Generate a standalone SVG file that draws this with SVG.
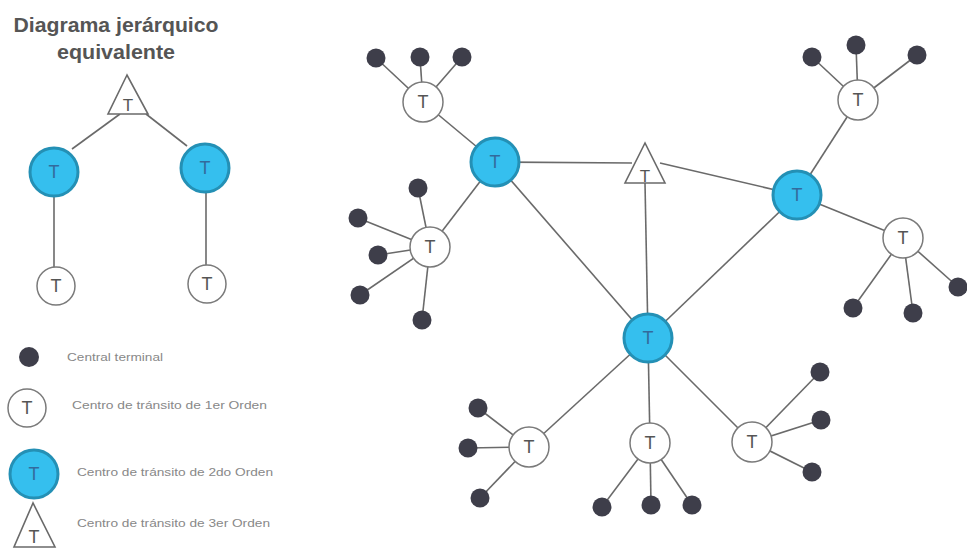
<svg xmlns="http://www.w3.org/2000/svg" width="967" height="552" viewBox="0 0 967 552">
<style>
.ln{stroke:#6a6a6a;stroke-width:1.6;fill:none}
.dot{fill:#3e3e4a}
.t1{fill:#fff;stroke:#7a7a7a;stroke-width:1.5}
.t2{fill:#35bfee;stroke:#2490b5;stroke-width:3}
.tri{fill:#fff;stroke:#6a6a6a;stroke-width:1.6}
.lbl{font-family:"Liberation Sans",Arial,sans-serif;font-size:18px;fill:#555;text-anchor:middle}
.lbl2{font-family:"Liberation Sans",Arial,sans-serif;font-size:18px;fill:#336;text-anchor:middle;opacity:.6}
.leg{font-family:"Liberation Sans",Arial,sans-serif;font-size:10.5px;fill:#888}
.title{font-family:"Liberation Sans",Arial,sans-serif;font-size:21px;font-weight:bold;fill:#555;text-anchor:middle}
</style>
<rect width="967" height="552" fill="#fff"/>
<g id="title">
<text class="title" x="116" y="32" textLength="205" lengthAdjust="spacingAndGlyphs">Diagrama jerárquico</text>
<text class="title" x="116" y="59" textLength="118" lengthAdjust="spacingAndGlyphs">equivalente</text>
</g>
<g id="connectors">
<line class="ln" x1="120" y1="114" x2="72" y2="149"/>
<line class="ln" x1="146" y1="114" x2="187" y2="146"/>
<line class="ln" x1="54" y1="196" x2="54" y2="267"/>
<line class="ln" x1="206" y1="192" x2="206" y2="265"/>
<line class="ln" x1="495" y1="162" x2="632" y2="163"/>
<line class="ln" x1="660" y1="163" x2="797" y2="195"/>
<line class="ln" x1="645" y1="183" x2="648" y2="338"/>
<line class="ln" x1="495" y1="162" x2="648" y2="338"/>
<line class="ln" x1="797" y1="195" x2="648" y2="338"/>
<line class="ln" x1="423" y1="102" x2="495" y2="162"/>
<line class="ln" x1="376" y1="58" x2="423" y2="102"/>
<line class="ln" x1="420" y1="57" x2="423" y2="102"/>
<line class="ln" x1="462" y1="57" x2="423" y2="102"/>
<line class="ln" x1="430" y1="247" x2="495" y2="162"/>
<line class="ln" x1="418" y1="188" x2="430" y2="247"/>
<line class="ln" x1="358" y1="218" x2="430" y2="247"/>
<line class="ln" x1="378" y1="255" x2="430" y2="247"/>
<line class="ln" x1="360" y1="295" x2="430" y2="247"/>
<line class="ln" x1="422" y1="320" x2="430" y2="247"/>
<line class="ln" x1="858" y1="100" x2="797" y2="195"/>
<line class="ln" x1="812" y1="57" x2="858" y2="100"/>
<line class="ln" x1="856" y1="45" x2="858" y2="100"/>
<line class="ln" x1="917" y1="55" x2="858" y2="100"/>
<line class="ln" x1="903" y1="238" x2="797" y2="195"/>
<line class="ln" x1="853" y1="308" x2="903" y2="238"/>
<line class="ln" x1="913" y1="313" x2="903" y2="238"/>
<line class="ln" x1="958" y1="287" x2="903" y2="238"/>
<line class="ln" x1="529" y1="447" x2="648" y2="338"/>
<line class="ln" x1="478" y1="408" x2="529" y2="447"/>
<line class="ln" x1="468" y1="448" x2="529" y2="447"/>
<line class="ln" x1="480" y1="498" x2="529" y2="447"/>
<line class="ln" x1="648" y1="338" x2="650" y2="443"/>
<line class="ln" x1="602" y1="507" x2="650" y2="443"/>
<line class="ln" x1="651" y1="505" x2="650" y2="443"/>
<line class="ln" x1="692" y1="505" x2="650" y2="443"/>
<line class="ln" x1="648" y1="338" x2="752" y2="442"/>
<line class="ln" x1="820" y1="372" x2="752" y2="442"/>
<line class="ln" x1="821" y1="420" x2="752" y2="442"/>
<line class="ln" x1="812" y1="472" x2="752" y2="442"/>
</g>
<g id="eq-tri"><polygon class="tri" points="127,75 108,114 148,114"/><text class="lbl" x="128" y="111" style="font-size:17px">T</text></g>
<g id="eq-b1"><circle class="t2" cx="54" cy="172" r="24"/><text class="lbl2" x="54" y="178">T</text></g>
<g id="eq-b2"><circle class="t2" cx="205" cy="168" r="24"/><text class="lbl2" x="205" y="174">T</text></g>
<g id="eq-w1"><circle class="t1" cx="56" cy="286" r="19"/><text class="lbl" x="56" y="292">T</text></g>
<g id="eq-w2"><circle class="t1" cx="207" cy="284" r="19"/><text class="lbl" x="207" y="290">T</text></g>
<g id="leg-terminal"><circle class="dot" cx="29" cy="357" r="10"/><text class="leg" x="67" y="361" textLength="96" lengthAdjust="spacingAndGlyphs">Central terminal</text></g>
<g id="leg-1"><circle class="t1" cx="27" cy="408" r="19"/><text class="lbl" x="27" y="414">T</text><text class="leg" x="72" y="409" textLength="195" lengthAdjust="spacingAndGlyphs">Centro de tránsito de 1er Orden</text></g>
<g id="leg-2"><circle class="t2" cx="34" cy="474" r="24"/><text class="lbl2" x="34" y="480">T</text><text class="leg" x="77" y="476" textLength="196" lengthAdjust="spacingAndGlyphs">Centro de tránsito de 2do Orden</text></g>
<g id="leg-3"><polygon class="tri" points="33,503 14,547 55,547"/><text class="lbl" x="34" y="543">T</text><text class="leg" x="77" y="527" textLength="193" lengthAdjust="spacingAndGlyphs">Centro de tránsito de 3er Orden</text></g>
<g id="tri-main"><polygon class="tri" points="645,143 625,183 665,183"/><text class="lbl" x="645" y="182" style="font-size:17px">T</text></g>
<g id="b-A"><circle class="t2" cx="495" cy="162" r="24"/><text class="lbl2" x="495" y="168">T</text></g>
<g id="b-C"><circle class="t2" cx="797" cy="195" r="24"/><text class="lbl2" x="797" y="201">T</text></g>
<g id="b-D"><circle class="t2" cx="648" cy="338" r="24"/><text class="lbl2" x="648" y="344">T</text></g>
<g id="w-E"><circle class="t1" cx="423" cy="102" r="20"/><text class="lbl" x="423" y="108">T</text></g>
<g id="w-F"><circle class="t1" cx="430" cy="247" r="20"/><text class="lbl" x="430" y="253">T</text></g>
<g id="w-G"><circle class="t1" cx="858" cy="100" r="20"/><text class="lbl" x="858" y="106">T</text></g>
<g id="w-H"><circle class="t1" cx="903" cy="238" r="20"/><text class="lbl" x="903" y="244">T</text></g>
<g id="w-I"><circle class="t1" cx="529" cy="447" r="20"/><text class="lbl" x="529" y="453">T</text></g>
<g id="w-J"><circle class="t1" cx="650" cy="443" r="20"/><text class="lbl" x="650" y="449">T</text></g>
<g id="w-K"><circle class="t1" cx="752" cy="442" r="20"/><text class="lbl" x="752" y="448">T</text></g>
<g id="dots">
<circle class="dot" cx="376" cy="58" r="9.5"/>
<circle class="dot" cx="420" cy="57" r="9.5"/>
<circle class="dot" cx="462" cy="57" r="9.5"/>
<circle class="dot" cx="418" cy="188" r="9.5"/>
<circle class="dot" cx="358" cy="218" r="9.5"/>
<circle class="dot" cx="378" cy="255" r="9.5"/>
<circle class="dot" cx="360" cy="295" r="9.5"/>
<circle class="dot" cx="422" cy="320" r="9.5"/>
<circle class="dot" cx="812" cy="57" r="9.5"/>
<circle class="dot" cx="856" cy="45" r="9.5"/>
<circle class="dot" cx="917" cy="55" r="9.5"/>
<circle class="dot" cx="853" cy="308" r="9.5"/>
<circle class="dot" cx="913" cy="313" r="9.5"/>
<circle class="dot" cx="958" cy="287" r="9.5"/>
<circle class="dot" cx="478" cy="408" r="9.5"/>
<circle class="dot" cx="468" cy="448" r="9.5"/>
<circle class="dot" cx="480" cy="498" r="9.5"/>
<circle class="dot" cx="602" cy="507" r="9.5"/>
<circle class="dot" cx="651" cy="505" r="9.5"/>
<circle class="dot" cx="692" cy="505" r="9.5"/>
<circle class="dot" cx="820" cy="372" r="9.5"/>
<circle class="dot" cx="821" cy="420" r="9.5"/>
<circle class="dot" cx="812" cy="472" r="9.5"/>
</g>
</svg>
